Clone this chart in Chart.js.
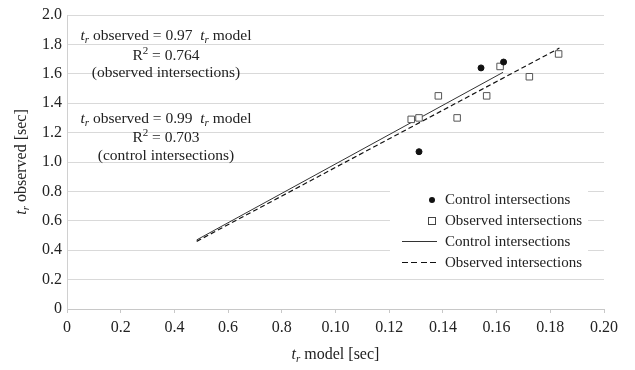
<!DOCTYPE html>
<html>
<head>
<meta charset="utf-8">
<script src="https://cdn.jsdelivr.net/npm/chart.js@4/dist/chart.umd.min.js"></script>
<style>
  body { margin: 0; background: #fff; }
  #wrap { position: relative; width: 635px; height: 370px; }
  #legend {
    position: absolute; left: 390px; top: 183px; width: 198px; height: 89px;
    background: #fff; font-family: 'Liberation Serif', serif; font-size: 15px; color: #222;
  }
  #legend ul { list-style: none; margin: 0; padding: 6px 0 0 0; }
  #legend li { height: 21px; line-height: 21px; position: relative; padding-left: 55px; white-space: nowrap; }
  .mk { position: absolute; }
  .mk.circle { left: 39px; top: 8px; width: 6px; height: 6px; border-radius: 50%; background: #111; }
  .mk.square { left: 38px; top: 7px; width: 6px; height: 6px; border: 1px solid #444; background: #fff; }
  .mk.line { left: 12px; top: 10px; width: 35px; height: 1px; background: #333; }
  .mk.dash { left: 12px; top: 10px; width: 35px; height: 1.4px;
    background: repeating-linear-gradient(to right, #111 0 6px, transparent 6px 9.5px); }
</style>
</head>
<body>
<div id="wrap">
  <canvas id="chart"></canvas>
  <div id="legend"></div>
</div>
<script>
// t_r model (x) and t_r observed (y) for each group
var controlModel = [0.1542, 0.1626, 0.1311];
var controlObserved = [1.64, 1.68, 1.07];

var observedModel = [0.1282, 0.1311, 0.1383, 0.1453, 0.1563, 0.1613, 0.1722, 0.1831];
var observedObserved = [1.29, 1.30, 1.45, 1.30, 1.45, 1.65, 1.58, 1.735];

// fitted lines (end points)
var controlFitX = [0.0483, 0.1624];
var controlFitY = [0.47, 1.61];
var observedFitX = [0.0483, 0.1834];
var observedFitY = [0.46, 1.775];

// tick values and the labels printed under them
var xTickValues = [0, 0.02, 0.04, 0.06, 0.08, 0.10, 0.12, 0.14, 0.16, 0.18, 0.20];
var xTickLabels = ['0', '0.2', '0.4', '0.6', '0.8', '0.10', '0.12', '0.14', '0.16', '0.18', '0.20'];
var yTickValues = [0, 0.2, 0.4, 0.6, 0.8, 1.0, 1.2, 1.4, 1.6, 1.8, 2.0];
var yTickLabels = ['0', '0.2', '0.4', '0.6', '0.8', '1.0', '1.2', '1.4', '1.6', '1.8', '2.0'];

var seriesLabels = ['Control intersections', 'Observed intersections', 'Control intersections', 'Observed intersections'];

var SERIF = "'Liberation Serif', serif";
var TEXT = '#222';

function pts(xs, ys) {
  return xs.map(function (x, i) { return { x: x, y: ys[i] }; });
}

// draws a run of text pieces (italic / subscript / superscript) centred on x
function fontFor(p, size) {
  var s = (p.sub || p.sup) ? Math.round(size * 0.68) : size;
  return (p.italic ? 'italic ' : '') + s + 'px ' + SERIF;
}
function drawRich(ctx, parts, x, y, size) {
  var total = 0;
  var widths = parts.map(function (p) {
    ctx.font = fontFor(p, size);
    var w = ctx.measureText(p.text).width;
    total += w;
    return w;
  });
  var cx = x - total / 2;
  ctx.textBaseline = 'middle';
  ctx.textAlign = 'left';
  parts.forEach(function (p, i) {
    ctx.font = fontFor(p, size);
    var dy = p.sub ? size * 0.28 : (p.sup ? -size * 0.32 : 0);
    ctx.fillText(p.text, cx, y + dy);
    cx += widths[i];
  });
}

var xTitle = [{ text: 't', italic: true }, { text: 'r', italic: true, sub: true }, { text: ' model [sec]' }];
var yTitle = [{ text: 't', italic: true }, { text: 'r', italic: true, sub: true }, { text: ' observed [sec]' }];

function eqLine(k) {
  return [{ text: 't', italic: true }, { text: 'r', italic: true, sub: true }, { text: ' observed = ' + k + '  ' },
          { text: 't', italic: true }, { text: 'r', italic: true, sub: true }, { text: ' model' }];
}
function r2Line(v) {
  return [{ text: 'R' }, { text: '2', sup: true }, { text: ' = ' + v }];
}
var notes = [
  { parts: eqLine('0.97'), dy: 21 },
  { parts: r2Line('0.764'), dy: 41 },
  { parts: [{ text: '(observed intersections)' }], dy: 58 },
  { parts: eqLine('0.99'), dy: 104 },
  { parts: r2Line('0.703'), dy: 123 },
  { parts: [{ text: '(control intersections)' }], dy: 141 }
];

var textPlugin = {
  id: 'richText',
  afterDraw: function (chart) {
    var ctx = chart.ctx, a = chart.chartArea;
    ctx.save();
    ctx.fillStyle = TEXT;
    notes.forEach(function (n) { drawRich(ctx, n.parts, a.left + 99, a.top + n.dy, 15.5); });
    drawRich(ctx, xTitle, (a.left + a.right) / 2, 355, 16);
    ctx.translate(22, (a.top + a.bottom) / 2);
    ctx.rotate(-Math.PI / 2);
    drawRich(ctx, yTitle, 0, 0, 16);
    ctx.restore();
  }
};

var chart = new Chart(document.getElementById('chart'), {
  type: 'scatter',
  data: {
    datasets: [{
      label: seriesLabels[0],
      data: pts(controlModel, controlObserved),
      pointStyle: 'circle',
      pointRadius: 3,
      backgroundColor: '#111',
      borderColor: '#111',
      order: 1
    }, {
      label: seriesLabels[1],
      data: pts(observedModel, observedObserved),
      pointStyle: 'rect',
      pointRadius: 4.6,
      backgroundColor: '#fff',
      borderColor: '#555',
      borderWidth: 1,
      order: 2
    }, {
      label: seriesLabels[2],
      data: pts(controlFitX, controlFitY),
      showLine: true,
      pointRadius: 0,
      borderColor: '#333',
      borderWidth: 1,
      order: 3
    }, {
      label: seriesLabels[3],
      data: pts(observedFitX, observedFitY),
      showLine: true,
      pointRadius: 0,
      borderColor: '#111',
      borderWidth: 1.2,
      borderDash: [5, 3],
      order: 4
    }]
  },
  options: {
    responsive: true,
    maintainAspectRatio: false,
    animation: false,
    layout: { padding: { top: 15, right: 31, left: 0, bottom: 0 } },
    plugins: { legend: { display: false }, tooltip: { enabled: false } },
    scales: {
      x: {
        type: 'linear',
        min: 0,
        max: 0.2,
        afterBuildTicks: function (s) { s.ticks = xTickValues.map(function (v) { return { value: v }; }); },
        afterFit: function (s) { s.height = 61; },
        ticks: {
          callback: function (v, i) { return xTickLabels[i]; },
          font: { family: SERIF, size: 16 },
          color: TEXT,
          padding: 5,
          maxRotation: 0,
          autoSkip: false
        },
        grid: { drawOnChartArea: false, tickLength: 4, color: '#c8c8c8' },
        border: { color: '#c8c8c8' }
      },
      y: {
        min: 0,
        max: 2,
        afterBuildTicks: function (s) { s.ticks = yTickValues.map(function (v) { return { value: v }; }); },
        afterFit: function (s) { s.width = 67; },
        ticks: {
          callback: function (v, i) { return yTickLabels[i]; },
          font: { family: SERIF, size: 16 },
          color: TEXT,
          padding: 5,
          autoSkip: false
        },
        grid: { drawTicks: false, color: '#d9d9d9' },
        border: { color: '#d0d0d0' }
      }
    }
  },
  plugins: [textPlugin]
});

// html legend built from the datasets
var marks = ['circle', 'square', 'line', 'dash'];
var html = ['<ul>'];
chart.data.datasets.forEach(function (d, i) {
  html.push('<li><span class="mk ' + marks[i] + '"></span>' + d.label + '</li>');
});
html.push('</ul>');
document.getElementById('legend').innerHTML = html.join('');
</script>
</body>
</html>
